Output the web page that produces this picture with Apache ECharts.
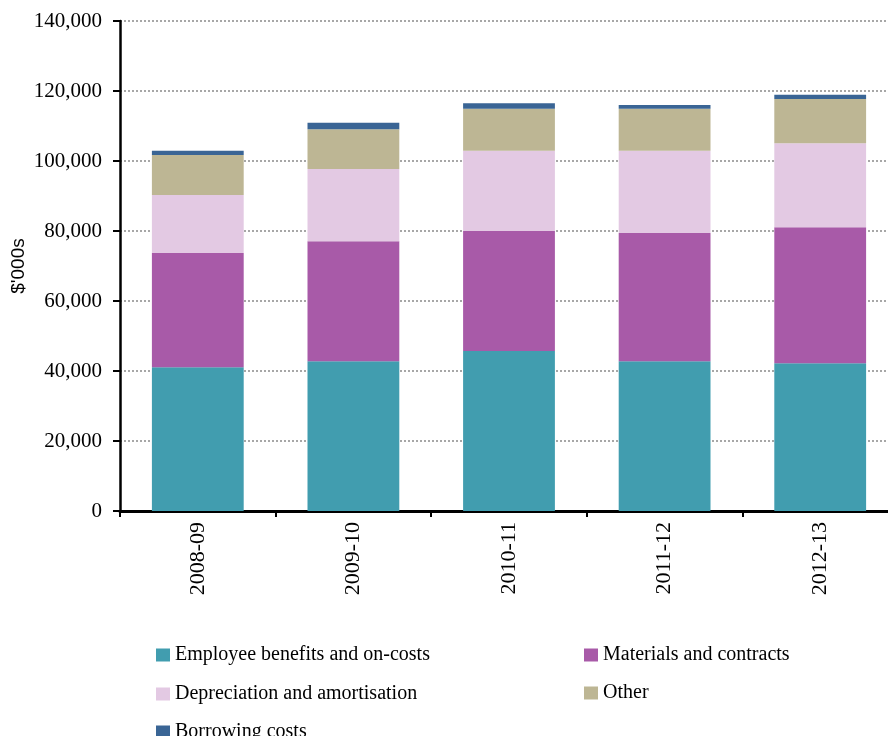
<!DOCTYPE html>
<html>
<head>
<meta charset="utf-8">
<style>
  html, body { margin: 0; padding: 0; background: #ffffff; }
  #chart { width: 888px; height: 736px; }
</style>
<script src="https://cdn.jsdelivr.net/npm/echarts@6/dist/echarts.min.js"></script>
</head>
<body>
<div id="chart"></div>
<script>
// Financial years on the category axis
const years = ['2008-09', '2009-10', '2010-11', '2011-12', '2012-13'];

// Expense components, $'000s
const employeeBenefits = [41100, 42800, 45700, 42800, 42200];
const materialsContracts = [32600, 34300, 34300, 36600, 38900];
const depreciation = [16600, 20600, 22900, 23500, 24000];
const other = [11400, 11400, 12000, 12000, 12600];
const borrowingCosts = [1200, 1800, 1600, 1100, 1200];

// Value axis ticks
const yMin = 0;
const yMax = 140000;
const yStep = 20000;

const seriesNames = [
  'Employee benefits and on-costs',
  'Materials and contracts',
  'Depreciation and amortisation',
  'Other',
  'Borrowing costs'
];
const seriesValues = [employeeBenefits, materialsContracts, depreciation, other, borrowingCosts];
const seriesColors = ['#419DAF', '#A85AA8', '#E3C9E3', '#BDB694', '#3A6595'];

// Legend grid: two columns, three rows
const legendCells = [
  { left: 151, top: 640 },
  { left: 579, top: 640 },
  { left: 151, top: 679 },
  { left: 579, top: 678 },
  { left: 151, top: 717 }
];

const serif = '"Liberation Serif", "Times New Roman", serif';

function withCommas(v) {
  return String(v).replace(/\B(?=(\d{3})+(?!\d))/g, ',');
}

const chart = echarts.init(document.getElementById('chart'), null, { renderer: 'canvas' });

const legendText = { fontFamily: serif, fontSize: 20, color: '#000', lineHeight: 20 };

chart.setOption({
  animation: false,
  backgroundColor: '#ffffff',
  // the plot runs a little past the right edge of the canvas
  grid: { left: 120, top: 21, width: 778, height: 490, containLabel: false, outerBoundsMode: 'none' },
  legend: seriesNames.map((name, i) => ({
    left: legendCells[i].left,
    top: legendCells[i].top,
    itemWidth: 14, itemHeight: 13,
    icon: 'rect',
    textStyle: legendText,
    data: [name]
  })),
  xAxis: {
    type: 'category',
    data: years,
    axisLine: { lineStyle: { color: '#000', width: 3 } },
    axisTick: { show: true, length: 6, lineStyle: { color: '#000', width: 2 } },
    axisLabel: {
      rotate: 90, margin: 11,
      fontFamily: serif, fontSize: 22, color: '#000'
    }
  },
  yAxis: {
    type: 'value',
    min: yMin, max: yMax, interval: yStep,
    name: "$'000s",
    nameLocation: 'middle',
    nameGap: 92,
    nameMoveOverlap: false,
    nameTextStyle: { fontFamily: '"Liberation Sans", Arial, sans-serif', fontSize: 19, color: '#000' },
    axisLine: { show: true, lineStyle: { color: '#000', width: 2.5 } },
    axisTick: { show: true, length: 7, lineStyle: { color: '#000', width: 2 } },
    axisLabel: {
      margin: 18,
      fontFamily: serif, fontSize: 21, color: '#000',
      formatter: withCommas
    },
    splitLine: { show: true, lineStyle: { color: '#8a8a8a', width: 1.5, type: [2, 2] } }
  },
  series: seriesNames.map((name, i) => ({
    name: name,
    type: 'bar',
    stack: 'total',
    barWidth: '59%',
    data: seriesValues[i],
    itemStyle: { color: seriesColors[i] }
  }))
});
</script>
</body>
</html>
